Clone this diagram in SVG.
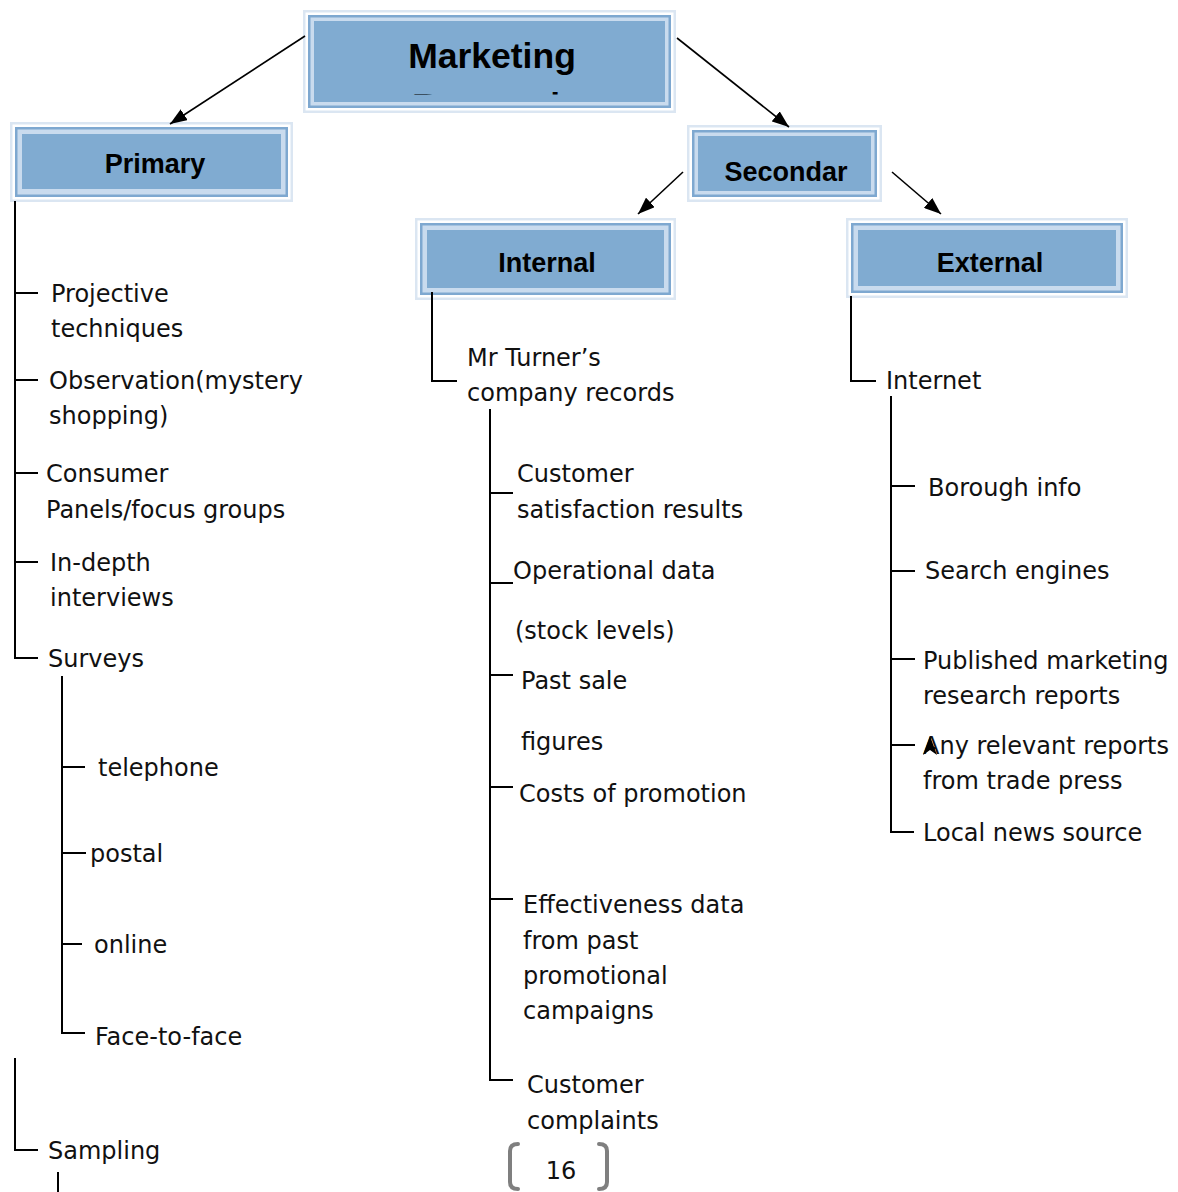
<svg xmlns="http://www.w3.org/2000/svg" width="1178" height="1192" viewBox="0 0 1178 1192">
  <style>
    .b0 { fill: #dbe6f2; }
    .b1 { fill: #ffffff; }
    .b2 { fill: #7ea8d0; }
    .b3 { fill: #c9dbee; }
    .b4 { fill: #80abd1; }
    .title { font-family: "Liberation Sans", Arial, sans-serif; font-weight: bold; font-size: 27px; fill: #000; text-anchor: middle; }
    .title.big { font-size: 35.5px; }
    .item { font-family: "DejaVu Sans", "Liberation Sans", sans-serif; font-size: 24px; fill: #111; }
    .tree { fill: none; stroke: #000; stroke-width: 2; }
    .arrow { fill: none; stroke: #000; stroke-width: 1.6; marker-end: url(#ah); }
    .brace { fill: none; stroke: #7f7f7f; stroke-width: 4; stroke-linecap: round; }
  </style>
  <defs>
    <marker id="ah" viewBox="0 0 17 13" refX="17" refY="6.5" markerWidth="17" markerHeight="13" markerUnits="userSpaceOnUse" orient="auto">
      <path d="M0,0 L17,6.5 L0,13 z" fill="#000"/>
    </marker>
    <clipPath id="mk-clip">
      <rect x="314" y="22" width="350" height="72.5"/>
    </clipPath>
  </defs>
  <rect width="1178" height="1192" fill="#fff"/>

  <!-- root box -->
  <g id="node-marketing">
    <rect class="b0" x="303" y="10" width="373" height="103"/>
    <rect class="b1" x="305.5" y="12.5" width="368" height="98"/>
    <rect class="b2" x="308" y="15" width="363" height="93"/>
    <rect class="b3" x="310.5" y="17.5" width="358" height="88"/>
    <rect class="b4" x="314" y="21" width="351" height="81"/>
    <text class="title big" x="492" y="68">Marketing</text>
    <text class="title big" x="492" y="117.5" clip-path="url(#mk-clip)">Research</text>
  </g>

  <g id="node-primary">
    <rect class="b0" x="10" y="122" width="283" height="80"/>
    <rect class="b1" x="12.5" y="124.5" width="278" height="75"/>
    <rect class="b2" x="15" y="127" width="273" height="70"/>
    <rect class="b3" x="17.5" y="129.5" width="268" height="65"/>
    <rect class="b4" x="22" y="134" width="259" height="55"/>
    <text class="title" x="155" y="173">Primary</text>
  </g>

  <g id="node-secondary">
    <rect class="b0" x="687" y="125" width="195" height="77"/>
    <rect class="b1" x="689.5" y="127.5" width="190" height="72"/>
    <rect class="b2" x="692" y="130" width="185" height="67"/>
    <rect class="b3" x="694.5" y="132.5" width="180" height="62"/>
    <rect class="b4" x="698" y="136" width="173" height="55"/>
    <text class="title" x="786" y="181">Secondar</text>
  </g>

  <g id="node-internal">
    <rect class="b0" x="415" y="218" width="261" height="82"/>
    <rect class="b1" x="417.5" y="220.5" width="256" height="77"/>
    <rect class="b2" x="420" y="223" width="251" height="72"/>
    <rect class="b3" x="422.5" y="225.5" width="246" height="67"/>
    <rect class="b4" x="427" y="230" width="237" height="58"/>
    <text class="title" x="547" y="272">Internal</text>
  </g>

  <g id="node-external">
    <rect class="b0" x="846" y="218" width="282" height="80"/>
    <rect class="b1" x="848.5" y="220.5" width="277" height="75"/>
    <rect class="b2" x="851" y="223" width="272" height="70"/>
    <rect class="b3" x="853.5" y="225.5" width="267" height="65"/>
    <rect class="b4" x="858" y="230" width="258" height="56"/>
    <text class="title" x="990" y="272">External</text>
  </g>

  <!-- connectors -->
  <g id="connectors">
    <line class="arrow" x1="305" y1="36" x2="170" y2="124"/>
    <line class="arrow" x1="677" y1="38" x2="789" y2="127"/>
    <line class="arrow" x1="683" y1="172" x2="638" y2="214"/>
    <line class="arrow" x1="892" y1="172" x2="941" y2="214"/>

    <!-- primary list -->
    <path class="tree" d="M15,201 V658 H38 M15,293 H38 M15,380 H38 M15,473 H38 M15,562 H38"/>
    <path class="tree" d="M62,676 V1033 H85 M62,767 H85 M62,853 H86 M62,944 H82"/>
    <path class="tree" d="M15,1058 V1150 H38 M58,1172 V1192"/>

    <!-- internal list -->
    <path class="tree" d="M432,292 V381 H457"/>
    <path class="tree" d="M490,409 V1080 H513 M490,493 H513 M490,583 H513 M490,675 H513 M490,787 H513 M490,899 H513"/>

    <!-- external list -->
    <path class="tree" d="M851,296 V381 H876"/>
    <path class="tree" d="M891,396 V832 H914 M891,486 H915 M891,571 H915 M891,659 H915 M891,745 H915"/>
  </g>

  <!-- primary items -->
  <g id="primary-items">
    <text class="item" x="51" y="302">Projective</text>
    <text class="item" x="51" y="337">techniques</text>
    <text class="item" x="49" y="389">Observation(mystery</text>
    <text class="item" x="49" y="424">shopping)</text>
    <text class="item" x="46" y="482">Consumer</text>
    <text class="item" x="46" y="518">Panels/focus groups</text>
    <text class="item" x="50" y="571">In-depth</text>
    <text class="item" x="50" y="606">interviews</text>
    <text class="item" x="48" y="667">Surveys</text>
    <text class="item" x="98" y="776">telephone</text>
    <text class="item" x="90" y="862">postal</text>
    <text class="item" x="94" y="953">online</text>
    <text class="item" x="95" y="1045">Face-to-face</text>
    <text class="item" x="48" y="1159">Sampling</text>
  </g>

  <!-- internal items -->
  <g id="internal-items">
    <text class="item" x="467" y="366">Mr Turner’s</text>
    <text class="item" x="467" y="401">company records</text>
    <text class="item" x="517" y="482">Customer</text>
    <text class="item" x="517" y="518">satisfaction results</text>
    <text class="item" x="513" y="579">Operational data</text>
    <text class="item" x="515" y="639">(stock levels)</text>
    <text class="item" x="521" y="689">Past sale</text>
    <text class="item" x="521" y="750">figures</text>
    <text class="item" x="519" y="802">Costs of promotion</text>
    <text class="item" x="523" y="913">Effectiveness data</text>
    <text class="item" x="523" y="949">from past</text>
    <text class="item" x="523" y="984">promotional</text>
    <text class="item" x="523" y="1019">campaigns</text>
    <text class="item" x="527" y="1093">Customer</text>
    <text class="item" x="527" y="1129">complaints</text>
  </g>

  <!-- external items -->
  <g id="external-items">
    <text class="item" x="886" y="389">Internet</text>
    <text class="item" x="928" y="496">Borough info</text>
    <text class="item" x="925" y="579">Search engines</text>
    <text class="item" x="923" y="669">Published marketing</text>
    <text class="item" x="923" y="704">research reports</text>
    <text class="item" x="923" y="754">Any relevant reports</text>
    <text class="item" x="923" y="789">from trade press</text>
    <text class="item" x="923" y="841">Local news source</text>
    <!-- stray arrowhead resting on the first letter -->
    <path d="M930,736 L937,755 L930,750 L923,755 z" fill="#000"/>
  </g>

  <!-- page number -->
  <g id="page-number">
    <path class="brace" d="M518,1144 Q510,1144 510,1151 V1182 Q510,1189 518,1189"/>
    <path class="brace" d="M599,1144 Q607,1144 607,1151 V1182 Q607,1189 599,1189"/>
    <text class="item" x="561" y="1179" text-anchor="middle">16</text>
  </g>
</svg>
